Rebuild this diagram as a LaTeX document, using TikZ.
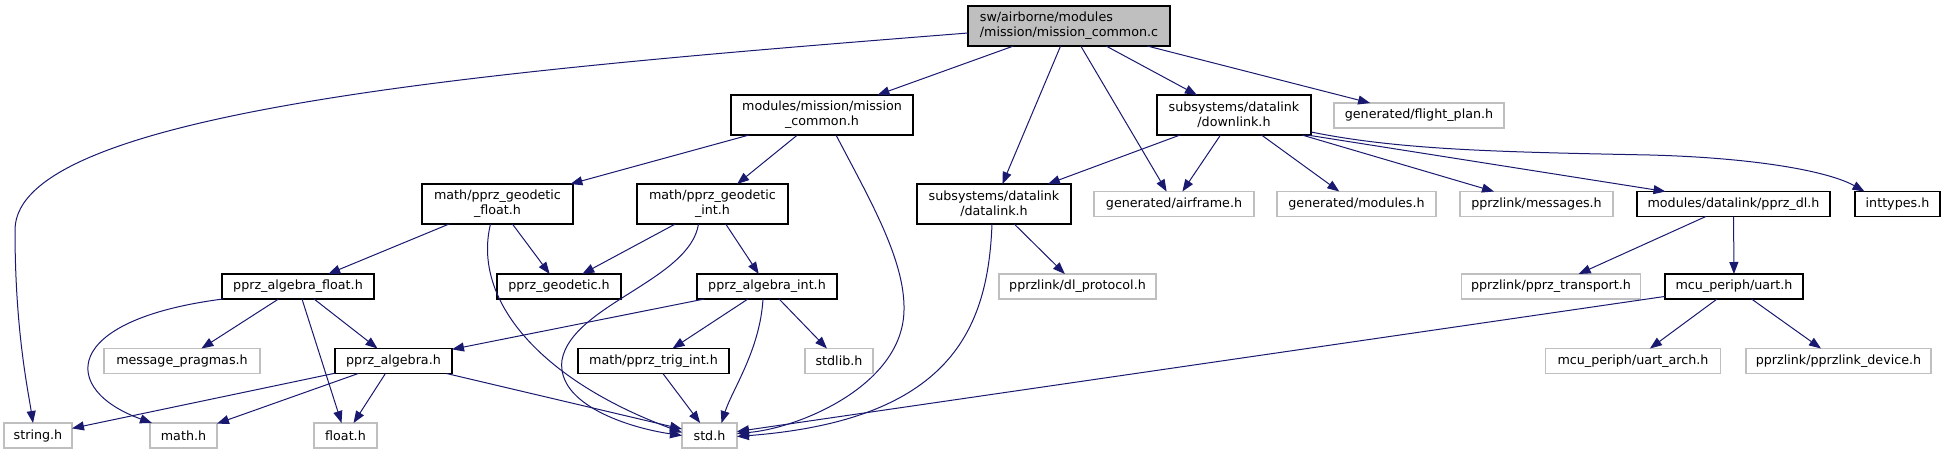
\documentclass[tikz,border=0pt]{standalone}
\usepackage{fontspec}
\newfontfamily\dvs{DejaVu Sans}
\usetikzlibrary{arrows.meta,calc}
\definecolor{edgeblue}{HTML}{191970}
\definecolor{boxgray}{HTML}{BFBFBF}
\definecolor{rootfill}{HTML}{BFBFBF}
\tikzset{
  box/.style={draw=black, line width=1.1pt, fill=white, minimum height=25pt, inner sep=0pt, outer sep=0pt,
    font=\dvs\fontsize{12.7}{15}\selectfont, align=center, text=black},
  gbox/.style={box, draw=boxgray},
  tall/.style={minimum height=40pt},
  e/.style={draw=edgeblue, line width=1pt, -{Triangle[length=12pt,width=9pt]}, fill=none},
}
\begin{document}
\begin{tikzpicture}[x=1pt,y=-1pt]
\useasboundingbox[fill=white] (0,0) rectangle (1946,455);
% rank 0
\node[box, tall, fill=rootfill, align=left, minimum width=202pt] (root) at (1069,26) {sw/airborne/modules\\/mission/mission\_common.c};
% rank 1
\node[box, tall, minimum width=182pt] (mc) at (822,115) {modules/mission/mission\\\_common.h};
\node[box, tall, minimum width=154pt] (dl) at (1234,115) {subsystems/datalink\\/downlink.h};
\node[gbox, minimum width=170pt] (fp) at (1419,115.5) {generated/flight\_plan.h};
% rank 2
\node[box, tall, minimum width=151pt] (gf) at (497.5,204) {math/pprz\_geodetic\\\_float.h};
\node[box, tall, minimum width=151pt] (gi) at (712.5,204) {math/pprz\_geodetic\\\_int.h};
\node[box, tall, minimum width=154pt] (dtl) at (994,204) {subsystems/datalink\\/datalink.h};
\node[gbox, minimum width=160pt] (af) at (1174,204) {generated/airframe.h};
\node[gbox, minimum width=159pt] (mod) at (1356.5,204) {generated/modules.h};
\node[gbox, minimum width=153pt] (msg) at (1536.5,204) {pprzlink/messages.h};
\node[box, minimum width=193pt] (pdl) at (1733.5,204) {modules/datalink/pprz\_dl.h};
\node[box, minimum width=85pt] (it) at (1897.5,204) {inttypes.h};
% rank 3
\node[box, minimum width=152pt] (paf) at (298,286.5) {pprz\_algebra\_float.h};
\node[box, minimum width=124pt] (pg) at (559,286.5) {pprz\_geodetic.h};
\node[box, minimum width=140pt] (pai) at (767,286.5) {pprz\_algebra\_int.h};
\node[gbox, minimum width=157pt] (dlp) at (1077.5,286.5) {pprzlink/dl\_protocol.h};
\node[gbox, minimum width=179pt] (pt) at (1551,286.5) {pprzlink/pprz\_transport.h};
\node[box, minimum width=138pt] (uart) at (1734,286.5) {mcu\_periph/uart.h};
% rank 4
\node[gbox, minimum width=156pt] (mp) at (182,361) {message\_pragmas.h};
\node[box, minimum width=117pt] (pa) at (393.5,361) {pprz\_algebra.h};
\node[box, minimum width=151pt] (pti) at (653.5,361) {math/pprz\_trig\_int.h};
\node[gbox, minimum width=68pt] (stdlib) at (839,361) {stdlib.h};
\node[gbox, minimum width=175pt] (ua) at (1633,361) {mcu\_periph/uart\_arch.h};
\node[gbox, minimum width=185pt] (pd) at (1838.5,361) {pprzlink/pprzlink\_device.h};
% rank 5
\node[gbox, minimum width=68pt] (string) at (38,435.5) {string.h};
\node[gbox, minimum width=67pt] (math) at (183.5,435.5) {math.h};
\node[gbox, minimum width=63pt] (float) at (345.5,435.5) {float.h};
\node[gbox, minimum width=55pt] (std) at (709.5,435.5) {std.h};

% edges from root
\draw[e] ($(root.west)+(0,7)$) .. controls (500,70) and (15,110) .. (15,230) .. controls (15,330) and (28,390) .. ($(string.north)+(-5,0)$);
\draw[e] (root) -- (mc);
\draw[e] (root) -- (dtl);
\draw[e] (root) -- (af);
\draw[e] (root) -- (dl);
\draw[e] (root) -- (fp);
% mission_common.h
\draw[e] (mc) -- (gf);
\draw[e] (mc) -- (gi);
\draw[e] ($(mc.south)+(14,0)$) .. controls (870,200) and (905,260) .. (904,310) .. controls (903,385) and (800,428) .. ($(std.east)+(0,-2)$);
% downlink.h
\draw[e] (dl) -- (dtl);
\draw[e] (dl) -- (af);
\draw[e] (dl) -- (mod);
\draw[e] (dl) -- (msg);
\draw[e] ($(dl.south east)+(-4,0)$) -- ($(pdl.north)+(-68,0)$);
\draw[e] ($(dl.east)+(0,17)$) .. controls (1400,150) and (1500,152) .. (1650,155) .. controls (1760,158) and (1830,172) .. ($(it.north)+(-33,0)$);
% geodetic float
\draw[e] (gf) -- (paf);
\draw[e] (gf) -- (pg);
\draw[e] ($(gf.south)+(-7,0)$) .. controls (472,300) and (540,380) .. ($(std.west)+(0,-3)$);
% geodetic int
\draw[e] (gi) -- (pg);
\draw[e] (gi) -- (pai);
\draw[e] ($(gi.south)+(-14,0)$) .. controls (690,280) and (572,305) .. (562,360) .. controls (556,405) and (630,428) .. ($(std.west)+(0,0)$);
% datalink.h
\draw[e] (dtl) -- (dlp);
\draw[e] ($(dtl.south)+(-2,0)$) .. controls (988,330) and (950,420) .. ($(std.east)+(0,1)$);
% pprz_dl
\draw[e] (pdl) -- (pt);
\draw[e] (pdl) -- (uart);
% pprz_algebra_float
\draw[e] ($(paf.south west)+(1,0)$) .. controls (60,320) and (60,390) .. ($(math.north west)+(2,0)$);
\draw[e] (paf) -- (mp);
\draw[e] (paf) -- (float);
\draw[e] (paf) -- (pa);
% pprz_algebra_int
\draw[e] (pai) -- (pa);
\draw[e] (pai) -- (pti);
\draw[e] ($(pai.south)+(-4,0)$) .. controls (760,350) and (732,390) .. ($(std.north)+(12,0)$);
\draw[e] (pai) -- (stdlib);
% uart
\draw[e] (uart) -- (ua);
\draw[e] (uart) -- (pd);
\draw[e] (uart) -- ($(std.east)+(0,-4)$);
% pprz_algebra
\draw[e] (pa) -- (string);
\draw[e] (pa) -- (math);
\draw[e] (pa) -- (float);
\draw[e] (pa) -- (std);
% trig
\draw[e] (pti) -- (std);
\end{tikzpicture}
\end{document}
